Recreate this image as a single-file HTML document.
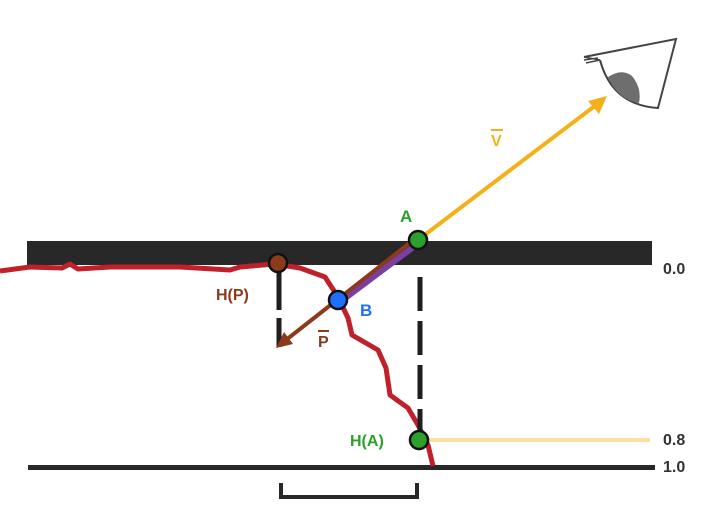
<!DOCTYPE html>
<html><head><style>body{margin:0;background:#fff}svg{display:block}text{font-family:"Liberation Sans",sans-serif;font-weight:bold}</style></head><body>
<svg width="727" height="516" viewBox="0 0 727 516" xmlns="http://www.w3.org/2000/svg">
<rect x="27" y="241" width="625" height="24" fill="#282828"/>
<rect x="28" y="465" width="627" height="5" fill="#282828"/>
<path d="M281,483 V497 H417 V483" fill="none" stroke="#282828" stroke-width="4"/>
<line x1="420" y1="440" x2="650" y2="440" stroke="#fbe0a0" stroke-width="4"/>
<path d="M0,271 L30,267 L62,268 L70,264 L78,269 L110,267 L180,267 L230,270 L240,267 L275,264 L300,268 L325,277 L338,297 L348,318 L352,335 L378,350 L386,368 L390,395 L408,408 L418,425 L428,445 L433,466" fill="none" stroke="#c0202a" stroke-width="5" stroke-linejoin="round"/>
<line x1="279" y1="265" x2="279" y2="310" stroke="#1e1e1e" stroke-width="5"/>
<line x1="279" y1="318" x2="279" y2="347" stroke="#1e1e1e" stroke-width="5"/>
<line x1="420" y1="277" x2="420" y2="430" stroke="#1e1e1e" stroke-width="5" stroke-dasharray="34,10"/>
<line x1="418" y1="240" x2="600" y2="102" stroke="#f5b019" stroke-width="4"/>
<polygon points="607,96 588,101 599,114" fill="#f5b019"/>
<line x1="420" y1="242" x2="340" y2="302" stroke="#7a3fa0" stroke-width="6"/>
<line x1="416" y1="238" x2="286" y2="340" stroke="#8b3a1c" stroke-width="4"/>
<polygon points="276,348 284,332 293,344" fill="#8b3a1c"/>
<circle cx="418" cy="240" r="9" fill="#2ca02c" stroke="#111" stroke-width="2.5"/>
<circle cx="338" cy="300" r="9" fill="#1f6fff" stroke="#111" stroke-width="2.5"/>
<circle cx="278" cy="263" r="9" fill="#8b3a1c" stroke="#111" stroke-width="2.5"/>
<circle cx="419" cy="440" r="9" fill="#2ca02c" stroke="#111" stroke-width="2.5"/>
<path d="M584,57 L676,39 L658,108 Q612,105 600,60" fill="none" stroke="#444" stroke-width="2"/>
<path d="M584,57 L600,60 M584,60 L598,58 M586,63 L600,60" stroke="#444" stroke-width="1.5"/>
<path d="M608,77 Q622,68 632,76 Q642,88 639,103 Q618,100 608,77 Z" fill="#6e6e6e"/>
<text x="400" y="222" font-size="17" fill="#2ca02c">A</text>
<text x="360" y="316" font-size="17" fill="#1f6fff">B</text>
<text x="216" y="300" font-size="16" fill="#8b3a1c">H(P)</text>
<text x="318" y="347" font-size="16" fill="#8b3a1c">P</text>
<rect x="318" y="330" width="11" height="2" fill="#8b3a1c"/>
<text x="491" y="146" font-size="16" fill="#f5b019">V</text>
<rect x="491" y="129" width="12" height="2" fill="#f5b019"/>
<text x="350" y="446" font-size="16" fill="#2ca02c">H(A)</text>
<text x="663" y="274" font-size="16" fill="#333">0.0</text>
<text x="663" y="445" font-size="16" fill="#333">0.8</text>
<text x="663" y="472" font-size="16" fill="#333">1.0</text>
</svg>
</body></html>
